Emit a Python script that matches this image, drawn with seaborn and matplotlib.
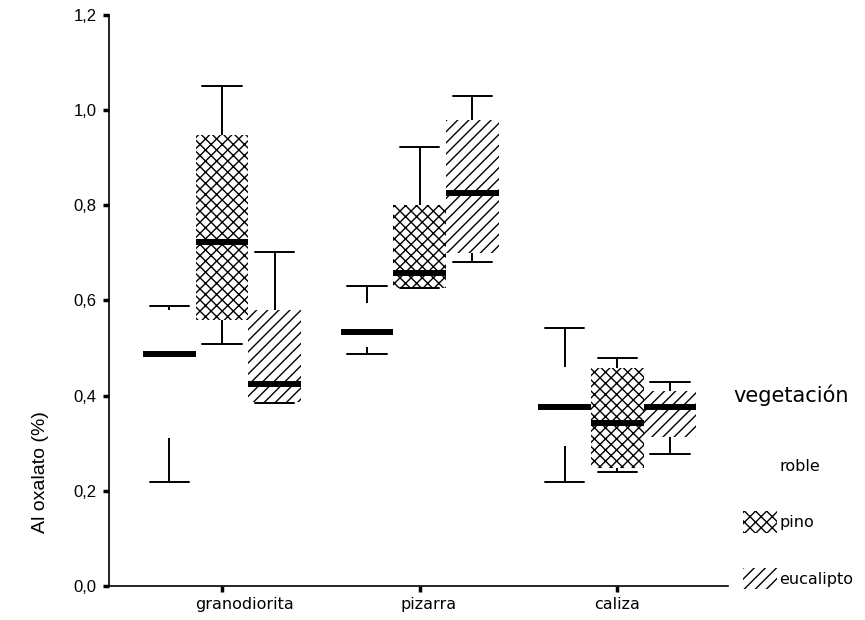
import numpy as np
import pandas as pd
import seaborn as sns
import matplotlib.pyplot as plt
from matplotlib.patches import Patch
from matplotlib.transforms import ScaledTranslation

sns.set_theme(style="ticks")
plt.rcParams['font.family'] = ['Liberation Sans', 'DejaVu Sans']
plt.rcParams['text.color'] = 'black'
plt.rcParams['axes.labelcolor'] = 'black'

# categories
rocas = ["granodiorita", "pizarra", "caliza"]
vegetacion = ["roble", "pino", "eucalipto"]

# five-number summaries (min, Q1, median, Q3, max)
# one list per rock type, in the order of `rocas`
roble = [
    [0.218, 0.311, 0.488, 0.580, 0.589],
    [0.488, 0.502, 0.534, 0.595, 0.630],
    [0.219, 0.294, 0.376, 0.460, 0.542],
]
pino = [
    [0.509, 0.559, 0.723, 0.948, 1.050],
    [0.625, 0.626, 0.658, 0.800, 0.922],
    [0.240, 0.248, 0.343, 0.458, 0.479],
]
eucalipto = [
    [0.385, 0.387, 0.425, 0.580, 0.702],
    [0.681, 0.700, 0.826, 0.980, 1.030],
    [0.277, 0.313, 0.376, 0.410, 0.429],
]

y_ticks = [0.0, 0.2, 0.4, 0.6, 0.8, 1.0, 1.2]
hatches = {"roble": "", "pino": "xxx", "eucalipto": "///"}

# long table for seaborn
rows = []
for veg, series in zip(vegetacion, [roble, pino, eucalipto]):
    for roca, vals in zip(rocas, series):
        for v in vals:
            rows.append({"roca": roca, "vegetacion": veg, "valor": v})
df = pd.DataFrame(rows)

fig = plt.figure(figsize=(8.65, 6.2), dpi=100)
ax = fig.add_axes([0.126, 0.055, 0.716, 0.921])

sns.boxplot(data=df, x="roca", y="valor", hue="vegetacion",
            order=rocas, hue_order=vegetacion,
            palette={v: "white" for v in vegetacion}, linecolor="black",
            width=0.8, gap=0, whis=(0, 100), showfliers=False,
            boxprops=dict(linewidth=0),
            medianprops=dict(linewidth=4.3),
            whiskerprops=dict(linewidth=1.4),
            capprops=dict(linewidth=1.4),
            capwidths=0.2, legend=False, ax=ax)

# hatch each box according to its position inside the group
for patch in ax.patches:
    xs = patch.get_path().vertices[:, 0]
    off = (xs.min() + xs.max()) / 2
    off = off - round(off)
    idx = 0 if off < -0.1 else (2 if off > 0.1 else 1)
    patch.set_hatch(hatches[vegetacion[idx]])
    patch.set_edgecolor("black")

ax.set_xlim(-0.572, 2.562)
ax.set_ylim(0, 1.2)
ax.set_yticks(y_ticks)
ax.set_yticklabels([f"{t:.1f}".replace(".", ",") for t in y_ticks])
ax.set_xlabel("")
ax.set_ylabel("Al oxalato (%)", fontsize=14)
ax.yaxis.set_label_coords(-0.097, 0.2)

sns.despine(ax=ax)
for side in ["left", "bottom"]:
    ax.spines[side].set_color("black")
    ax.spines[side].set_linewidth(1.2)
ax.tick_params(axis="both", direction="out", length=4, width=2.5,
               color="black", labelcolor="black")
ax.tick_params(axis="y", labelsize=12, pad=5)
ax.tick_params(axis="x", labelsize=11.5, pad=4, labelfontfamily="DejaVu Sans")

# the category labels sit slightly right of their ticks in the original
for lab, dx in zip(ax.get_xticklabels(), [16.5, 6.5, 0]):
    lab.set_transform(lab.get_transform()
                      + ScaledTranslation(dx / 72, 0, fig.dpi_scale_trans))

handles = [Patch(facecolor="white", edgecolor="black", linewidth=0,
                 hatch=hatches[v]) for v in vegetacion]
ax.legend(handles, vegetacion, loc="upper left",
          bbox_to_anchor=(1.013, 0.241), frameon=False,
          prop={"family": "DejaVu Sans", "size": 11.5},
          handlelength=2.17, handleheight=1.68,
          labelspacing=2.2, handletextpad=0.1, borderaxespad=0)
ax.text(1.008, 0.3345, "vegetación", transform=ax.transAxes,
        fontsize=15, family="DejaVu Sans", va="center", ha="left")

fig.savefig("out.png", dpi=100)
